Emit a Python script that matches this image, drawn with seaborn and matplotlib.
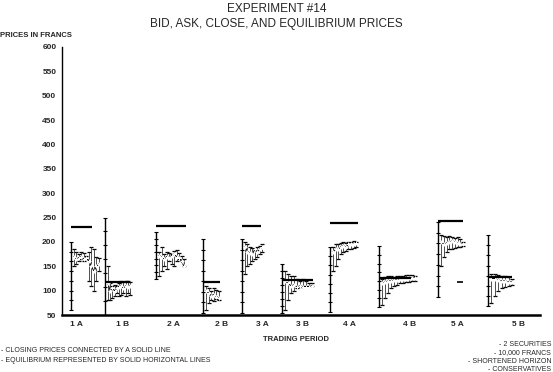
import numpy as np
import pandas as pd
import matplotlib
matplotlib.use("Agg")
import matplotlib.pyplot as plt
import seaborn as sns

# ==========================
# Data
# ==========================
periods = ["1 A", "1 B", "2 A", "2 B", "3 A", "3 B", "4 A", "4 B", "5 A", "5 B"]
label_pos = [76, 123, 173, 222, 262, 302, 349, 409, 457, 518]
start_pos = [71, 105, 156, 203, 242, 282, 330, 379, 438, 488]
widths = [28, 25, 28, 16, 20, 30, 26, 36, 25, 24]

equilibrium = [230, 117, 232, 118, 233, 122, 239, 126, 242, 128]
eq_span = [21, 25, 30, 17, 19, 31, 28, 32, 25, 24]

open_low = [60, 50, 125, 55, 55, 55, 57, 67, 87, 68]
open_high = [200, 250, 220, 205, 205, 155, 190, 191, 241, 214]

bids = [
    [150, 155, 160, 165, 160, 165, 120, 110, 100, 120, 140],
    [80, 80, 85, 90, 95, 90, 92, 95, 90, 95, 92],
    [130, 140, 150, 145, 160, 155, 150, 160, 165, 160, 150],
    [60, 75, 80, 78, 82, 80],
    [135, 150, 155, 160, 165, 170, 175, 180],
    [60, 80, 95, 100, 105, 108, 110, 110, 110, 110],
    [140, 150, 165, 175, 180, 182, 185, 185, 188, 190],
    [70, 85, 95, 105, 110, 112, 115, 115, 118, 118, 120, 120],
    [150, 170, 180, 185, 185, 188, 190, 190, 192],
    [75, 90, 100, 105, 108, 110, 112],
]
asks = [
    [185, 180, 175, 180, 178, 172, 180, 190, 185, 170, 168],
    [150, 115, 110, 112, 110, 115, 120, 118, 120, 120, 118],
    [180, 190, 175, 180, 178, 175, 182, 183, 178, 172, 165],
    [110, 105, 100, 105, 102, 100],
    [200, 195, 190, 188, 185, 190, 192, 195],
    [140, 135, 130, 130, 125, 120, 125, 120, 115, 115],
    [190, 195, 195, 198, 200, 198, 200, 200, 202, 200],
    [125, 128, 130, 130, 128, 130, 130, 130, 132, 132, 132, 130],
    [215, 212, 210, 212, 210, 208, 210, 205, 200],
    [135, 135, 132, 130, 130, 128, 125],
]
closes = [
    [170, 165, 168, 170, 165, 168, 160, 150, 140, 150, 155],
    [115, 100, 105, 100, 105, 108, 110, 105, 110, 108, 110],
    [172, 170, 165, 170, 168, 172, 175, 170, 168, 160, 150],
    [100, 95, 90, 92, 88, 85],
    [190, 180, 178, 175, 185, 180, 185, 190],
    [120, 115, 110, 112, 108, 110, 108, 108, 108, 110],
    [180, 185, 185, 190, 192, 190, 195, 195, 195, 198],
    [115, 118, 120, 120, 122, 122, 124, 125, 125, 126, 126, 126],
    [200, 195, 198, 200, 202, 200, 198, 196, 195],
    [125, 125, 122, 120, 120, 118, 118],
]
stray_x = [460]
stray_price = [118]

# build one table of trades
rows = []
for p, name in enumerate(periods):
    n = len(bids[p])
    xs = start_pos[p] + 3 + np.arange(n) * (widths[p] - 3) / max(n - 1, 1)
    for i in range(n):
        rows.append({"period": name, "x": xs[i], "bid": bids[p][i],
                     "ask": asks[p][i], "close": closes[p][i]})
trades = pd.DataFrame(rows)

sns.set_style("white")
plt.rcParams["font.family"] = ["Liberation Sans", "DejaVu Sans"]

fig = plt.figure(figsize=(5.53, 3.72), dpi=100)
ax = fig.add_axes([0.112, 0.153, 0.865, 0.721])

# opening spreads (long vertical lines)
ax.vlines(start_pos, open_low, open_high, color="black", lw=1.0)
for p in range(len(periods)):
    ticks = np.linspace(open_low[p], open_high[p], 8)
    ax.scatter([start_pos[p]] * len(ticks), ticks, marker="_", s=6, color="black", lw=0.8)

# bid / ask spreads
ax.vlines(trades["x"], trades["bid"], trades["ask"], color="#333333", lw=0.6)
sns.scatterplot(data=trades, x="x", y="bid", marker="_", s=12, color="black",
                linewidth=0.9, ax=ax, legend=False)
sns.scatterplot(data=trades, x="x", y="ask", marker="_", s=12, color="black",
                linewidth=0.9, ax=ax, legend=False)

# closing prices connected by a solid line
sns.lineplot(data=trades, x="x", y="close", units="period", estimator=None,
             color="black", lw=0.7, marker="+", markersize=2.5, ax=ax, legend=False)
ax.scatter(stray_x, stray_price, marker="_", s=14, color="black", lw=1.2)

# equilibrium lines
ax.hlines(equilibrium, start_pos, np.array(start_pos) + np.array(eq_span),
          color="black", lw=1.6)

ax.set_xlim(62, 540)
ax.set_ylim(50, 600)
ax.set_yticks(range(50, 601, 50))
ax.set_xticks(label_pos)
ax.set_xticklabels(periods)
ax.tick_params(length=0, labelsize=6, pad=4)
for lab in ax.get_xticklabels() + ax.get_yticklabels():
    lab.set_fontweight("bold")
ax.set_xlabel("")
ax.set_ylabel("")
for side in ["top", "right"]:
    ax.spines[side].set_visible(False)
ax.spines["left"].set_linewidth(1.0)
ax.spines["bottom"].set_linewidth(1.8)
ax.spines["left"].set_color("black")
ax.spines["bottom"].set_color("black")

fig.text(0.5, 0.975, "EXPERIMENT #14", ha="center", va="center", fontsize=8.5)
fig.text(0.5, 0.935, "BID, ASK, CLOSE, AND EQUILIBRIUM PRICES", ha="center",
         va="center", fontsize=8.5)
fig.text(0.0, 0.905, "PRICES IN FRANCS", ha="left", va="center", fontsize=5.5,
         fontweight="bold")
fig.text(0.535, 0.088, "TRADING PERIOD", ha="center", va="center", fontsize=5.5,
         fontweight="bold")

fig.text(0.002, 0.058, "- CLOSING PRICES CONNECTED BY A SOLID LINE", fontsize=5, va="center")
fig.text(0.002, 0.032, "- EQUILIBRIUM REPRESENTED BY SOLID HORIZONTAL LINES", fontsize=5, va="center")
notes = ["- 2 SECURITIES", "- 10,000 FRANCS", "- SHORTENED HORIZON", "- CONSERVATIVES"]
for k, t in enumerate(notes):
    fig.text(0.997, 0.075 - k * 0.023, t, ha="right", va="center", fontsize=5)

fig.savefig("out.png", dpi=100)
